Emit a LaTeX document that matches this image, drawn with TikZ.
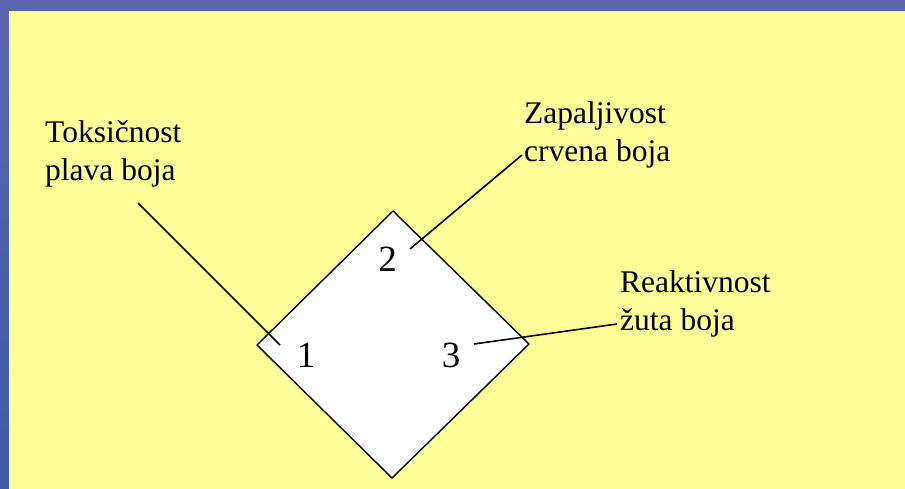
\documentclass[tikz,border=0pt]{standalone}
\usepackage{fontspec}
\setmainfont{Liberation Serif}
\definecolor{slideblue}{RGB}{90,102,174}
\definecolor{slideblueb}{RGB}{62,92,160}
\definecolor{paper}{RGB}{255,255,153}
\begin{document}
\begin{tikzpicture}[x=1pt,y=-1pt,
  label text/.style={inner sep=0pt,anchor=base west,align=left,
    font=\fontsize{31.5}{38}\selectfont},
  digit/.style={inner sep=0pt,anchor=base,font=\fontsize{37}{44}\selectfont},
  leader/.style={draw=black,line width=1.6pt},
  sign/.style={draw=black,fill=white,line width=1.4pt,line join=round}]
  \useasboundingbox (0,0) rectangle (905,488);
  % slide background and yellow panel
  \shade[top color=slideblue,bottom color=slideblueb] (0,-2) rectangle (907,490);
  \fill[paper] (9,11) rectangle (907,490);

  % hazard diamond
  \coordinate (top) at (393,211);
  \coordinate (right) at (529,344);
  \coordinate (bottom) at (392,478);
  \coordinate (left) at (257,345);
  \path[sign] (top) -- (right) -- (bottom) -- (left) -- cycle;

  % field numbers
  \node[digit] (n1) at (306,367) {1};
  \node[digit] (n2) at (387.5,271) {2};
  \node[digit] (n3) at (451,367) {3};

  % captions (anchored on the baseline of the second line)
  \node[label text] (tox) at (45,180) {Toksičnost\\plava boja};
  \node[label text] (zap) at (524,161) {Zapaljivost\\crvena boja};
  \node[label text] (rea) at (620,330) {Reaktivnost\\žuta boja};

  % leader lines
  \coordinate (l1a) at (138,203);
  \coordinate (l1b) at (280,345);
  \coordinate (l2a) at (410,249);
  \coordinate (l2b) at (522,155);
  \coordinate (l3a) at (474,344);
  \coordinate (l3b) at (617,324);
  \draw[leader] (l1a) -- (l1b);
  \draw[leader] (l2a) -- (l2b);
  \draw[leader] (l3a) -- (l3b);
\end{tikzpicture}
\end{document}
